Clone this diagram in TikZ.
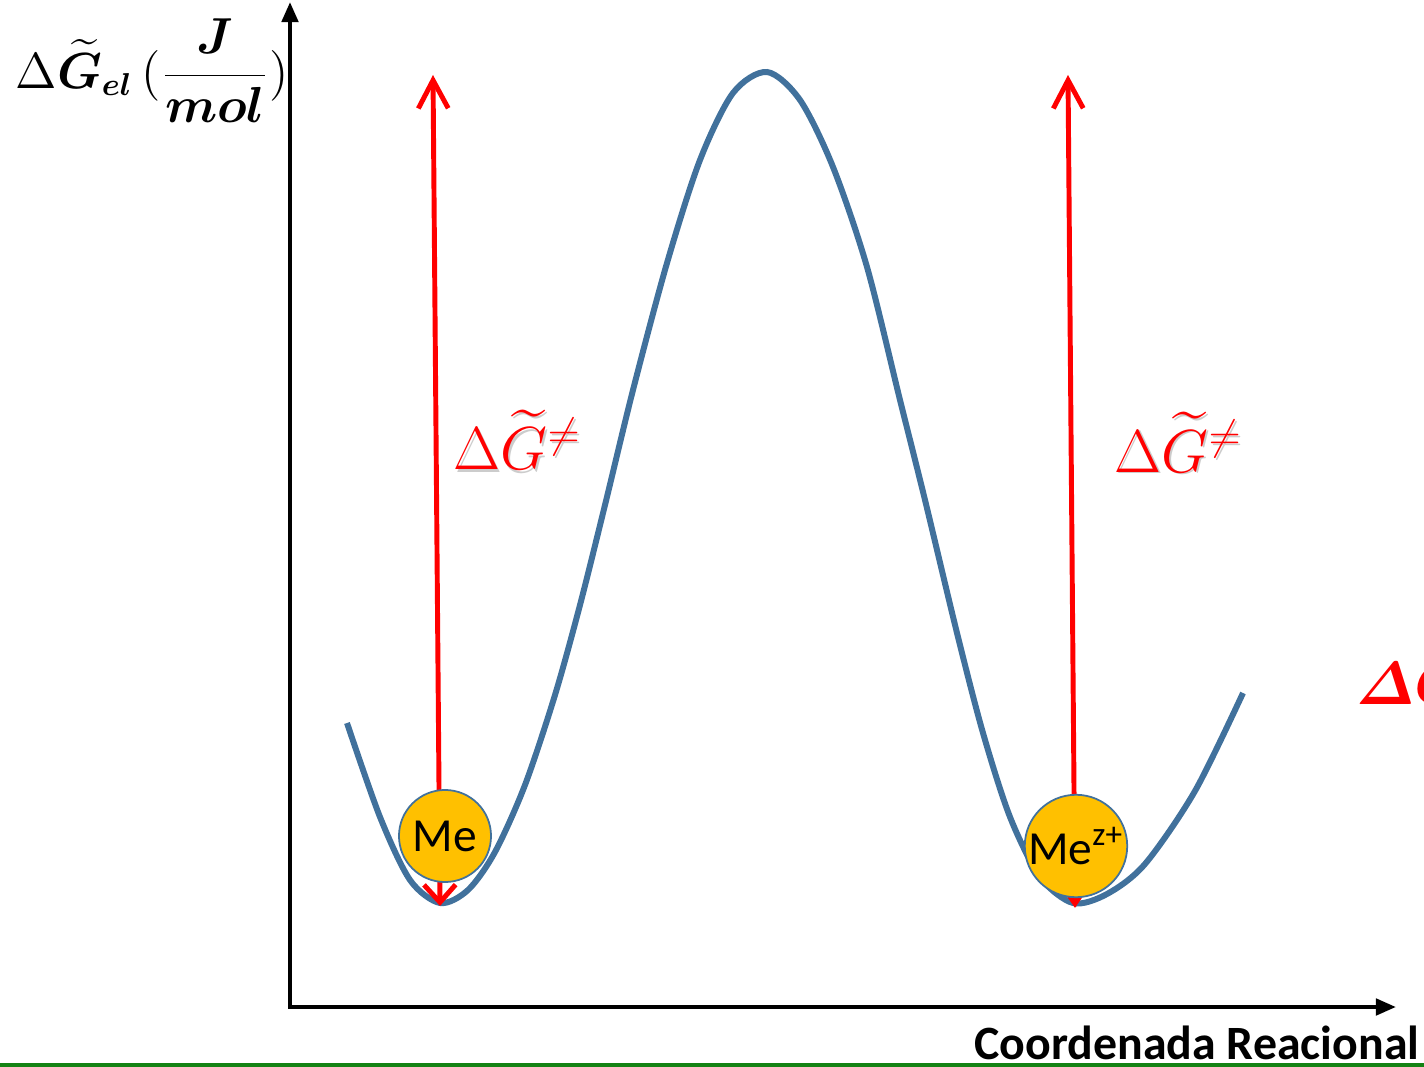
\documentclass[tikz,border=0pt]{standalone}
\usepackage{amsmath,amssymb,bm}
\usepackage{fontspec}
\newfontfamily\calib{Carlito}
\usetikzlibrary{arrows.meta}

\definecolor{curveblue}{RGB}{65,113,156}
\definecolor{ballgold}{RGB}{255,192,0}
\definecolor{rulegreen}{RGB}{20,130,20}

\begin{document}
\begin{tikzpicture}[x=0.01cm,y=-0.01cm,
    axis/.style={line width=1.2pt,{Triangle[length=5.7pt,width=4.6pt]}-{Triangle[length=5.7pt,width=4.6pt]}},
    barrier/.style={red,line width=1.4pt,line cap=round},
    ball/.style={circle,draw=curveblue,line width=0.5pt,fill=ballgold,minimum size=0.92cm,inner sep=0pt,font=\calib\fontsize{13.5}{15}\selectfont},
    redlabel/.style={red,anchor=base west,inner sep=0pt,font=\fontsize{17.5}{20}\selectfont},
    shadowlabel/.style={gray!40,anchor=base west,inner sep=0pt,font=\fontsize{17.5}{20}\selectfont}]
  \useasboundingbox (0,0) rectangle (1424,1067);
  \clip (0,0) rectangle (1424,1067);

  % axes
  \coordinate (O) at (290,1007);
  \coordinate (ytip) at (290,2);
  \coordinate (xtip) at (1396,1007);
  \draw[axis] (ytip) -- (O) -- (xtip);
  \node[anchor=west,inner sep=0pt] (ylab) at (15,71)
    {\fontsize{13.4}{16}\selectfont $\Delta\widetilde{\bm{G}}_{\bm{el}}\,(\dfrac{\bm{J}}{\bm{mol}})$};
  \node[anchor=base east,inner sep=0pt] (xlab) at (1420,1059)
    {\calib\bfseries\fontsize{13.6}{15}\selectfont Coordenada Reacional};
  \draw[rulegreen,line width=0.9pt] (0,1065) -- (1424,1065);

  % energy profile
  \draw[curveblue,line width=1.7pt] plot[smooth,tension=0.5] coordinates {
    (347,723) (380,817) (410,880) (440,903) (468,890) (495,852) (525,785)
    (555,695) (580,605) (605,505) (633,390) (667,263) (700,160) (733,93)
    (767,72) (800,100) (833,167) (867,267) (900,400) (925,500) (957,633)
    (983,733) (1010,817) (1040,877) (1073,903) (1107,894) (1145,864)
    (1195,791) (1243,693)};

  % activation arrows
  \coordinate (ltop) at (433,75);
  \coordinate (lbot) at (440,906);
  \coordinate (rtop) at (1068,75);
  \coordinate (rbot) at (1075,908);
  \draw[barrier,{Straight Barb[length=5pt,width=9pt]}-{Straight Barb[length=8pt,width=8.5pt]}] (lbot) -- (ltop);
  \draw[barrier,{Triangle[length=6pt,width=8pt]}-{Straight Barb[length=8pt,width=8.5pt]}] (rbot) -- (rtop);

  % metal / ion
  \node[ball] (me) at (445,836) {Me};
  \node[ball] (mez) at (1076,846) {\raisebox{-3pt}{Me\textsuperscript{z+}}};

  % barrier labels
  \node[shadowlabel] at (455,472) {$\Delta\widetilde{G}^{\neq}$};
  \node[redlabel] (dgl) at (453,470) {$\Delta\widetilde{G}^{\neq}$};
  \node[shadowlabel] at (1116,474) {$\Delta\widetilde{G}^{\neq}$};
  \node[redlabel] (dgr) at (1114,472) {$\Delta\widetilde{G}^{\neq}$};
  \node[redlabel,font=\fontsize{18}{21}\selectfont] (dgo) at (1356,704) {$\bm{\varDelta G}$};
\end{tikzpicture}
\end{document}
